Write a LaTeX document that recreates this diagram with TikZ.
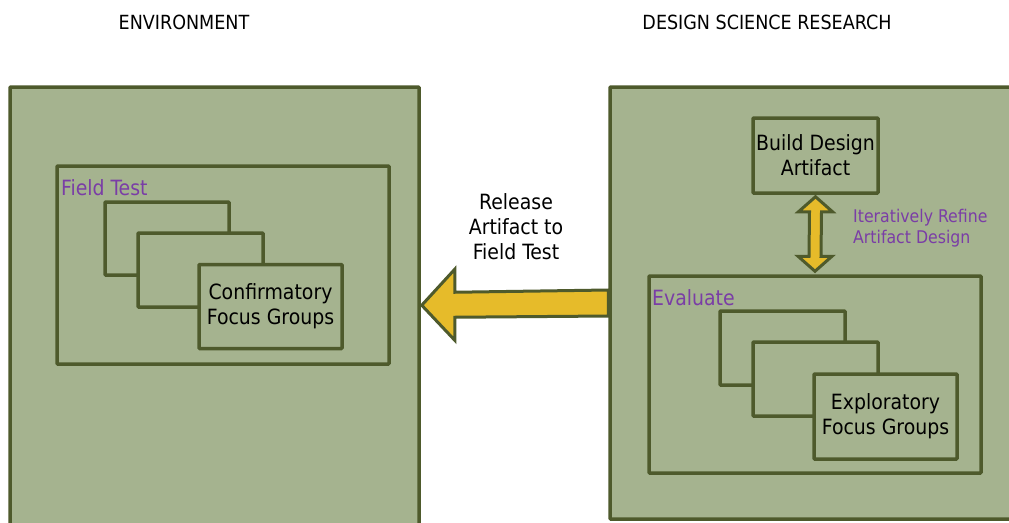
\documentclass[tikz,border=0pt]{standalone}
\usepackage{fontspec}
\setmainfont{DejaVu Sans Condensed}
\usetikzlibrary{calc}
\definecolor{boxfill}{HTML}{A5B38F}
\definecolor{boxline}{HTML}{4E5A2C}
\definecolor{arrowfill}{HTML}{E6BB2A}
\definecolor{labelpurple}{HTML}{7A3DA6}
\begin{document}
\begin{tikzpicture}[x=1pt,y=-1pt,
  box/.style={draw=boxline,fill=boxfill,line width=3.5pt,rounded corners=0.8pt,inner sep=0pt},
  boxtext/.style={font=\fontsize{21}{25}\selectfont,align=center,text=black},
  purplelabel/.style={font=\fontsize{21}{25}\selectfont,text=labelpurple,inner sep=0pt},
  smallpurple/.style={font=\fontsize{17.5}{21}\selectfont,text=labelpurple,inner sep=0pt,align=left},
  title/.style={font=\fontsize{19.5}{22}\selectfont,text=black},
  blockarrow/.style={draw=boxline,fill=arrowfill,line width=3pt,line join=miter}]
\useasboundingbox (0,0) rectangle (1009,522);
\clip (0,0) rectangle (1009,522);
\fill[white] (0,0) rectangle (1009,522);

% titles
\node[title] (t1) at (184,22) {ENVIRONMENT};
\node[title] (t2) at (767,22) {DESIGN SCIENCE RESEARCH};

% environment side
\node[box,minimum width=409,minimum height=453] (env) at (214.5,313.5) {};
\node[box,minimum width=332,minimum height=198] (ft) at (223,265) {};
\node[purplelabel,anchor=west] (ftl) at (61,188) {Field Test};
\node[box,minimum width=124,minimum height=73] (ftb1) at (167,238.5) {};
\node[box,minimum width=125,minimum height=74] (ftb2) at (200.5,270) {};
\node[box,boxtext,minimum width=143,minimum height=84] (cfg) at (270.5,306.5) {Confirmatory\\Focus Groups};

% design science research side
\node[box,minimum width=420,minimum height=432] (dsr) at (820,303) {};
\node[box,boxtext,minimum width=125,minimum height=75] (bda) at (815.5,155.5) {Build Design\\Artifact};
\node[box,minimum width=332,minimum height=197] (eval) at (815,374.5) {};
\node[purplelabel,anchor=west] (evl) at (652,298) {Evaluate};
\node[box,minimum width=125,minimum height=74] (evb1) at (782.5,348) {};
\node[box,minimum width=125,minimum height=74] (evb2) at (815.5,379) {};
\node[box,boxtext,minimum width=143,minimum height=85] (efg) at (885.5,416.5) {Exploratory\\Focus Groups};

% iterative refine double arrow
\coordinate (dt) at ($(bda.south)+(0,2)$);
\coordinate (db) at ($(eval.north)+(0,-3)$);
\draw[blockarrow] (dt) -- ++(17,15) -- ++(-11,0) -- ($(db)+(6,-15)$) -- ($(db)+(17,-15)$) -- (db)
  -- ($(db)+(-17,-15)$) -- ($(db)+(-6,-15)$) -- ($(dt)+(-6,15)$) -- ($(dt)+(-17,15)$) -- cycle;
\node[smallpurple,anchor=north west] (irl) at (853,209) {Iteratively Refine\\Artifact Design};

% release arrow
\path (env.north east) ++(1,220) coordinate (lt);
\path (dsr.north west) coordinate (rtop);
\draw[blockarrow] (lt) -- ++(33,-36) -- ++(0,23) -- (rtop |- 0,290) -- (rtop |- 0,316)
  -- ($(lt)+(33,12)$) -- ($(lt)+(33,35)$) -- cycle;
\node[boxtext] (rel) at (516,227) {Release\\Artifact to\\Field Test};
\end{tikzpicture}
\end{document}
